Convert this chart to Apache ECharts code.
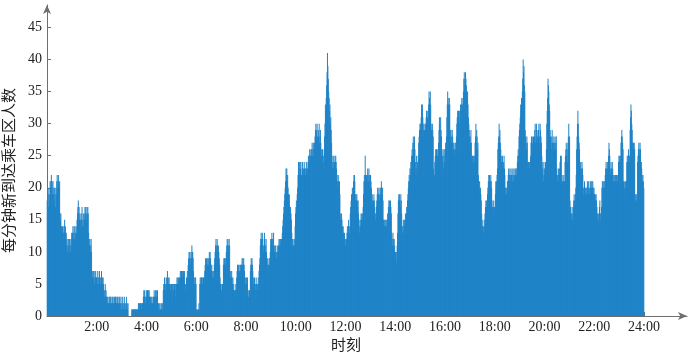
<!DOCTYPE html>
<html>
<head>
<meta charset="utf-8">
<script src="https://cdn.jsdelivr.net/npm/echarts@6/dist/echarts.min.js"></script>
<style>
html,body{margin:0;padding:0;background:#fff;}
#chart{width:690px;height:355px;}
</style>
</head>
<body>
<div id="chart"></div>
<script>
// Arrivals per minute, one array per hour (60 values each)
const h00 = [18,20,19,17,20,19,18, 21,20,21,22,20,21,19,21, 19,20,18,20,19,17,20,19, 21,22,20,21,22,21,20,21, 16,15,16,14, 14,13,14,12,13,14,13,15,13,14,12,13, 11,12,10,11,12,11,10,12,11,10,12,11,13];
const h01 = [12,13,14,12,13,14,12,14,13,12,14,13, 15,16,17,18,16,17,15,16, 15,14,16,15,17,14,15,16,14,16,15,17, 16,17,16,15,17,16,17,16, 13,12,11,12,10,11,12,10, 7,6,7,6,7,6,5,7,6,7,6,6];
const h02 = [6,5,7,6,5,6,7,5,6,5,6,7,5,6,5,6, 5,4,3,4,5,3,4,3, 3,2,3,2,2,3,2,3,3,2,3,2,2,3,2,3,2,2,3,2,3,3,2,2,3,2,3,2,2,3,2,3, 1,2,3,1];
const h03 = [2,1,3,2,1,2,3,1,2,1,2,3,1,2,1,2, 0,0,0,0,0,0,0,0, 1,1,1,1,1,1,1,1,1,1,1,1,1,1,1,1, 2,2,1,2,2,2,2,1,2,2,2,2, 3,4,3,4,3,2,3,4];
const h04 = [3,4,4,3,4,3,4,3, 2,3,2,3,2,3,2,2, 3,3,4,3,3,4,3,3, 4,3,4,2, 2,1,2,1,2,1,1,2,1,2,1,2, 4,5,4,6,5,4,5,6, 5,6,7,5,6,5,6,5, 5,4,5,5];
const h05 = [5,4,5,3,5,4,5,5,4,5,3,5, 5,6,5,6,5,6,5,6, 6,7,6,7,7,6,7,6,7,7,6,7, 5,5,4,5,6,5,7,6, 8,9,10,9,10,8,9,10,9, 11,10,10,9, 7,6,5,6,5,6,5];
const h06 = [1,0,1,1,0,1,2,1, 5,6,5,6,6,5,6,5,6,6,5,6, 7,8,9,8,9,8,9,8,9,8, 9,10,9,10,9,8,7,8, 7,6,7,6,7,8, 9,10,11,12,11,10,12,11,10,11, 10,9,8,6,5,4];
const h07 = [4,5,4,5,5, 8,9,8,9,9,8,9,10, 11,12,11,12,11,10,12,11, 7,6,7,6,7,6,5,6, 4,5,4,4,3,4,5,4, 6,7,8,7,8,7,8,7,6,8,7,8, 8,9,8,9,8,9,8,7, 6,5,6];
const h08 = [5,6,5,6, 3,4,3,3,4,3, 7,8,9,8,9,8,7,6, 5,4,6,5,4,5,6,5, 5,4,5,6,5,7,8,9, 11,12,13,12,11,13,12,11, 10,11,13,12,10,11,12,10, 8,9,8,7,8,9,8,9, 10,12];
const h09 = [11,12,13,12,11,12,13,11,10,11, 10,11,10,9,10,11,10,10, 11,12,11,12,11,12,11,12, 12,13,14,15,16,17,18,19, 20,21,23,22,23,21,22,20, 19,18,19,17,16,17,16,15, 13,12,11,12,11,11,12,11, 14,16];
const h10 = [17,18,17,19,20,22, 24,23,24,22,24,23,24,22, 22,23,24,22,23,22,24,23, 23,22,23,24,23,22,23,24, 25,24,25,26,24,25,26,25, 26,27,25,26,27,25,26,27, 28,29,30,28,29,30,28,27, 29,28,30,27,28,29];
const h11 = [27,26, 25,24,26,23,24,25,26,28, 30,33,32,34, 36,38,41,39,37,35, 34,32,33,30,31,29,27, 25,23,24,25,23,24, 24,25,24,25,24,23, 22,21,20,22,21,20,21,19, 16,15,14,16,15,14,13,14,13,12,13,12,11];
const h12 = [12,11,12, 13,14,13,14,15,14,13,14, 16,17,18,19,18,20,19,20, 21,22,22,21, 19,18,19,18,19,18,17,18, 16,15,13,14,15,14, 16,15,16,16,15,17, 19,21,22,21,25,22,21,22, 22,21,23,22,21,23,22,21,22];
const h13 = [22,21,20, 18,19,18,17,18,19,18,17, 16,15,16,17, 18,19,20,18,19,20,19,18, 20,19,20,21,20,19,20,18, 15,14,15,14,15,14,15,14,15,14,16,15, 17,18,17,18,17,18,17,16, 13,12,11,13,12,11,12,11,10];
const h14 = [10,9,8,10,11,13, 16,18,19,18,19,18,17,19,18,16, 14,13,14,15,13,14,15,14, 16,15,16,17,16,18,19,20, 21,22,21,23,22,24,23,25, 26,25,27,28,26,27,28,26, 24,22,23,25,22,24,23,25, 27,28,29,30];
const h15 = [29,30, 31,33,32,33,31,30, 29,28,29,30,29, 30,31,32,30,31,32,31, 33,35,34,32,35,33, 30,29,28,30,29,28, 23,21,22,24, 25,26,25,26,24,25,26,25, 27,29,31,30,28,31,29,28, 26,25,24,26,23,25,24,26];
const h16 = [26,27,26,28, 31,33,35,34,33,32,34,33, 29,28,29,27,28,29,28,27, 26,27,26,25,27,26,27,28, 30,31,32,31,32,31,30,32, 32,33,32,33,34,32,33,34, 35,37,38,36,37,38,37,36, 35,34,35,33, 31,30,29,28];
const h17 = [28,27,29,27, 25,24,25,24,25,23,24,25, 27,28,30,27,29,28,26,27, 22,21,20,21,19,20,19,18, 16,15,14,13,14,13,15,14, 16,17,18,17,18,17,19, 20,21,22,21,22,20,21,22,21,20, 18,17,16,17,18,16,17];
const h18 = [17, 19,21,20,21,22,23, 26,27,28,30,28,29,27,26, 25,24,23,25,24,23,24,25,23,22, 20,19,20,19,20,21, 21,22,23,21,22,23,21,22,23,22, 22,21,23,22,21,23,22,21,23,22,23,22, 23,24,25,26,25, 28,29];
const h19 = [30,31,33,32,34,33, 35,37,40,38,39,36,35, 29,28,27,26,28,27, 24,23,24,23,24,23,24,25, 27,28,27,28,27,26,28,27, 28,29,30,27,28,30,29,27,28,29, 29,30,27,28,30,29,28,27, 25,24,23,22,21,24,23];
const h20 = [22,23,24,23,26, 30,32,34,37,36,35,33,32, 29,28,27,26,28,29,27,26, 27,28,26,27,28,26,27,28, 23,22,21,22,23,21,22,23, 24,25,24,25, 21,22,21,20,21,22,21,21, 24,25,26,27,25,26,24,27, 28,30,27];
const h21 = [28, 18,17,16,15,16,17,15,16, 17,18,19,18,17,19,20,22, 26,28,30,32,30,28,27,26, 24,23,24,22,23,24,23,22, 20,19,20,21,20,19,20,20, 19,20,21,19,20,21,20,19, 20,21,20,21,20,21,20,21,20,19,20];
const h22 = [19,18,19,18,19,18, 17,16,15,14,16,15,17,18, 16,15,16,17, 20,21,20,21,20,21,20,21, 22,23,24,23,22,24,23,24, 25,27,26,25, 23,22,24,23,22,24,23,22, 21,22,21,22,21,22,21,22,21,22,21,22, 24,25];
const h23 = [24,25,24,25, 27,28,29,28,27,26, 21,20,21,20,19,21,20,21, 24,25,24,25,26,25,24,25, 29,31,33,32,30,29, 27,26,27,26,27,26, 19,18,19,18,19,18, 24,25,26,27,26,25,27,26,24, 24,23,22,21,22,21,20];

const hours = [h00,h01,h02,h03,h04,h05,h06,h07,h08,h09,h10,h11,h12,h13,h14,h15,h16,h17,h18,h19,h20,h21,h22,h23];
const perMinute = [].concat(...hours);
const seriesData = perMinute.map((v, i) => [i + 0.5, v]);

// Axis tick values
const xTickMinutes = [120,240,360,480,600,720,840,960,1080,1200,1320,1440];
const yTickValues = [0,5,10,15,20,25,30,35,40,45];

const serif = "'Liberation Serif','Times New Roman','Noto Sans CJK SC',serif";
const chart = echarts.init(document.getElementById('chart'), null, {renderer: 'canvas'});
chart.setOption({
  animation: false,
  backgroundColor: '#fff',
  grid: {left: 47, right: 3, top: 5, bottom: 39, containLabel: false, outerBoundsMode: 'none'},
  xAxis: {
    type: 'value',
    min: 0,
    max: 1543.7,
    interval: 120,
    name: '时刻',
    nameLocation: 'middle',
    nameGap: 22,
    nameTextStyle: {fontFamily: serif, fontSize: 15, color: '#222', padding: [0, 42, 0, 0]},
    axisLine: {show: true, onZero: false, symbol: ['none', 'arrow'], symbolSize: [6, 9], lineStyle: {color: '#6e6e6e', width: 1}},
    axisTick: {show: true, inside: true, length: 4, customValues: xTickMinutes, lineStyle: {color: '#6e6e6e'}},
    axisLabel: {
      customValues: xTickMinutes,
      fontFamily: serif, fontSize: 14, color: '#222', margin: 4,
      formatter: v => (v % 120 === 0 && v > 0 && v <= 1440) ? (v / 60) + ':00' : ''
    },
    splitLine: {show: false}
  },
  yAxis: {
    type: 'value',
    min: 0,
    max: 48.5,
    interval: 5,
    name: '每分钟新到达乘车区人数',
    nameLocation: 'middle',
    nameGap: 25,
    nameTextStyle: {fontFamily: serif, fontSize: 15, color: '#222', padding: [0, 20, 0, 0]},
    axisLine: {show: true, onZero: false, symbol: ['none', 'arrow'], symbolSize: [6, 9], lineStyle: {color: '#6e6e6e', width: 1}},
    axisTick: {show: true, inside: true, length: 4, customValues: yTickValues, lineStyle: {color: '#6e6e6e'}},
    axisLabel: {
      customValues: yTickValues,
      fontFamily: serif, fontSize: 14, color: '#222', margin: 5,
      formatter: v => (v % 5 === 0 && v <= 45) ? String(v) : ''
    },
    splitLine: {show: false}
  },
  series: [{
    type: 'bar',
    data: seriesData,
    barWidth: 1,
    itemStyle: {color: '#1e83c7'},
    silent: true
  }]
});
</script>
</body>
</html>
